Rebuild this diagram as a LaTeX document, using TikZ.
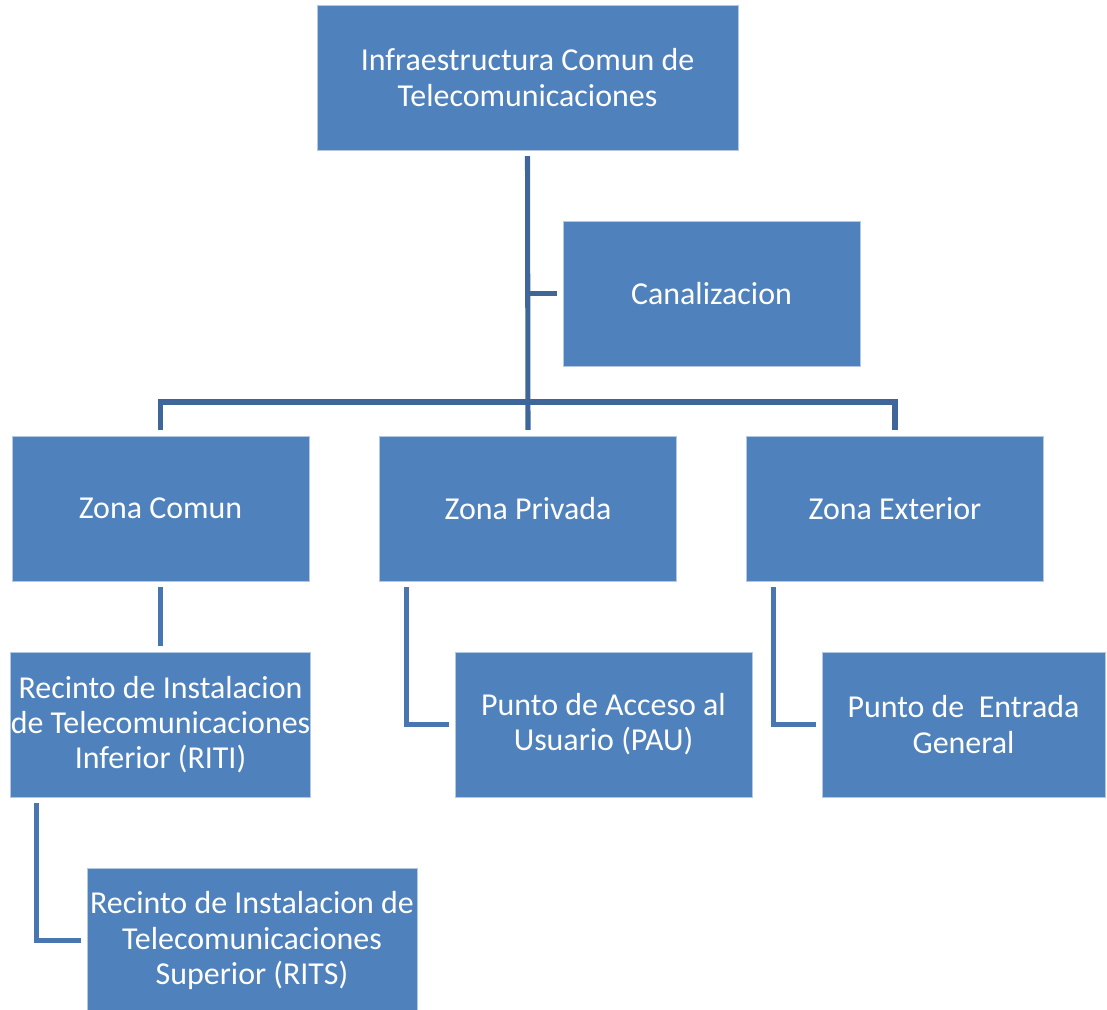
\documentclass[tikz,border=0pt]{standalone}
\usepackage{fontspec}
\setmainfont{Carlito}
\usetikzlibrary{calc}
\definecolor{boxblue}{HTML}{4F81BD}
\definecolor{boxedge}{HTML}{B4C8E2}
\definecolor{linetop}{HTML}{3E6698}
\definecolor{linelow}{HTML}{4776B1}
\begin{document}
\begin{tikzpicture}[x=0.025cm, y=-0.025cm, line join=miter,
	unit/.style={rectangle, fill=boxblue, draw=boxedge, line width=0.5pt, text=white, align=center,
		minimum width=297*0.025cm, minimum height=145*0.025cm, inner sep=0pt, outer sep=4.3pt,
		font=\fontsize{22.7}{25}\selectfont},
	conn/.style={draw=linetop, line width=3.6pt},
	subconn/.style={draw=linelow, line width=3.6pt}]
	\clip (0,0) rectangle (1107,1009);
	% main boxes
	\node[unit, minimum width=421*0.025cm] (top) at (527.5,77.5) {Infraestructura Comun de\\Telecomunicaciones};
	\node[unit] (canal) at (711.5,293.5) {Canalizacion};
	\node[unit] (zcomun) at (160.5,508.5) {Zona Comun};
	\node[unit] (zpriv) at (528,508.5) {Zona Privada};
	\node[unit] (zext) at (895,508.5) {Zona Exterior};
	% lower boxes
	\node[unit] (riti) at (160.5,724.5) {Recinto de Instalacion\\de Telecomunicaciones\\Inferior (RITI)};
	\node[unit] (pau) at (603.5,724.5) {Punto de Acceso al\\Usuario (PAU)};
	\node[unit, minimum width=283*0.025cm] (peg) at (963.5,724.5) {Punto de\ \ Entrada\\General};
	\node[unit, minimum width=330*0.025cm] (rits) at (252,940.5) {Recinto de Instalacion de\\Telecomunicaciones\\Superior (RITS)};
	\coordinate (bus) at (528,402);
	\draw[conn] (top.south) -- (zpriv.north);
	\draw[conn] (top.south |- canal.west) -- (canal.west);
	\draw[conn] (zcomun.north) |- (bus) -| (zext.north);
	\draw[subconn] (zcomun.south) -- (riti.north);
	\draw[subconn] ($(zpriv.south west)+(33,0)$) |- (pau.west);
	\draw[subconn] ($(zext.south west)+(33,0)$) |- (peg.west);
	\draw[subconn] ($(riti.south west)+(32,0)$) |- (rits.west);
\end{tikzpicture}
\end{document}
